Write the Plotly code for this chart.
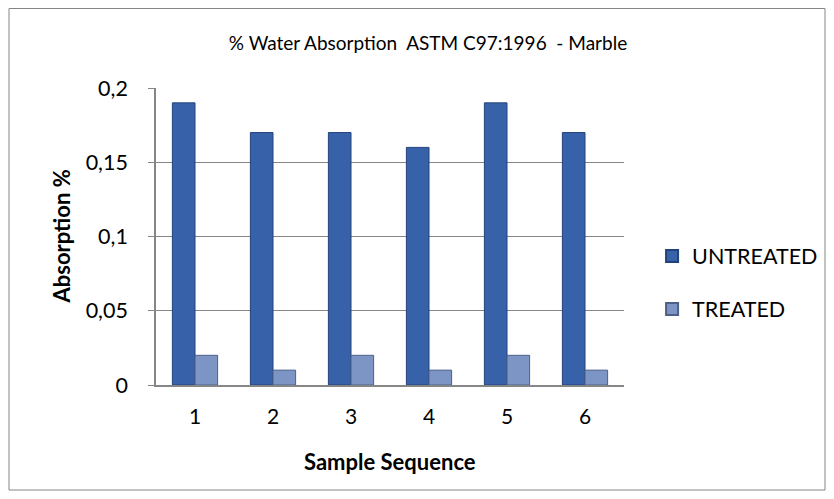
import plotly.graph_objects as go

samples = ["1", "2", "3", "4", "5", "6"]
untreated = [0.19, 0.17, 0.17, 0.16, 0.19, 0.17]
treated = [0.02, 0.01, 0.02, 0.01, 0.02, 0.01]
y_ticks = [0, 0.05, 0.1, 0.15, 0.2]
y_tick_text = ["0", "0,05", "0,1", "0,15", "0,2"]

FONT = "Lato, 'Open Sans', sans-serif"
W, H = 818, 483
L, T, PW, PH = 148, 80, 468, 297

fig = go.Figure()
fig.add_trace(go.Bar(x=samples, y=untreated, name="UNTREATED", legendgroup="u",
                     marker=dict(color="#3762AA", line=dict(color="#22437A", width=1))))
fig.add_trace(go.Bar(x=samples, y=treated, name="TREATED", legendgroup="t",
                     marker=dict(color="#7D95C4", line=dict(color="#4C6088", width=1))))

fig.update_layout(
    width=W, height=H,
    barmode="group", bargap=0.42, bargroupgap=0,
    separators=",.",
    paper_bgcolor="white", plot_bgcolor="white",
    margin=dict(l=L, r=W - L - PW, t=T, b=H - T - PH, autoexpand=False),
    font=dict(family=FONT, color="black"),
    title=dict(text="% Water Absorption  ASTM C97:1996  - Marble",
               x=420 / W, xref="container", xanchor="center",
               y=1 - 35 / H, yref="container", yanchor="middle",
               font=dict(size=19, family=FONT)),
    xaxis=dict(showline=True, linecolor="#868686", linewidth=1.5,
               ticks="", ticklabelstandoff=12,
               tickfont=dict(size=21)),
    yaxis=dict(range=[0, 0.2], tickvals=y_ticks, ticktext=y_tick_text,
               showgrid=True, gridcolor="#868686", gridwidth=1,
               showline=True, linecolor="#868686", linewidth=1.5,
               ticks="outside", tickcolor="#868686", ticklen=6,
               ticklabelstandoff=16,
               tickfont=dict(size=21.5), zeroline=False),
    legend=dict(x=1.06, xanchor="left", y=0.345, yanchor="middle",
                font=dict(size=21.5), tracegroupgap=22, itemsizing="constant"),
    annotations=[
        dict(text="<b>Absorption %</b>", xref="paper", yref="paper",
             x=(53 - L) / PW, y=0.5, xanchor="center", yanchor="middle",
             textangle=-90, showarrow=False, font=dict(size=22)),
        dict(text="<b>Sample Sequence</b>", xref="paper", yref="paper",
             x=0.5, y=(T + PH - 453) / PH, xanchor="center", yanchor="middle",
             showarrow=False, font=dict(size=22)),
    ],
)
fig.add_shape(type="rect", xref="paper", yref="paper",
              x0=(1 - L) / PW, x1=(817 - L) / PW,
              y0=(T + PH - 482) / PH, y1=(T + PH - 0.5) / PH,
              line=dict(color="#868686", width=1), fillcolor="rgba(0,0,0,0)", layer="below")

fig.write_html("out.html")
